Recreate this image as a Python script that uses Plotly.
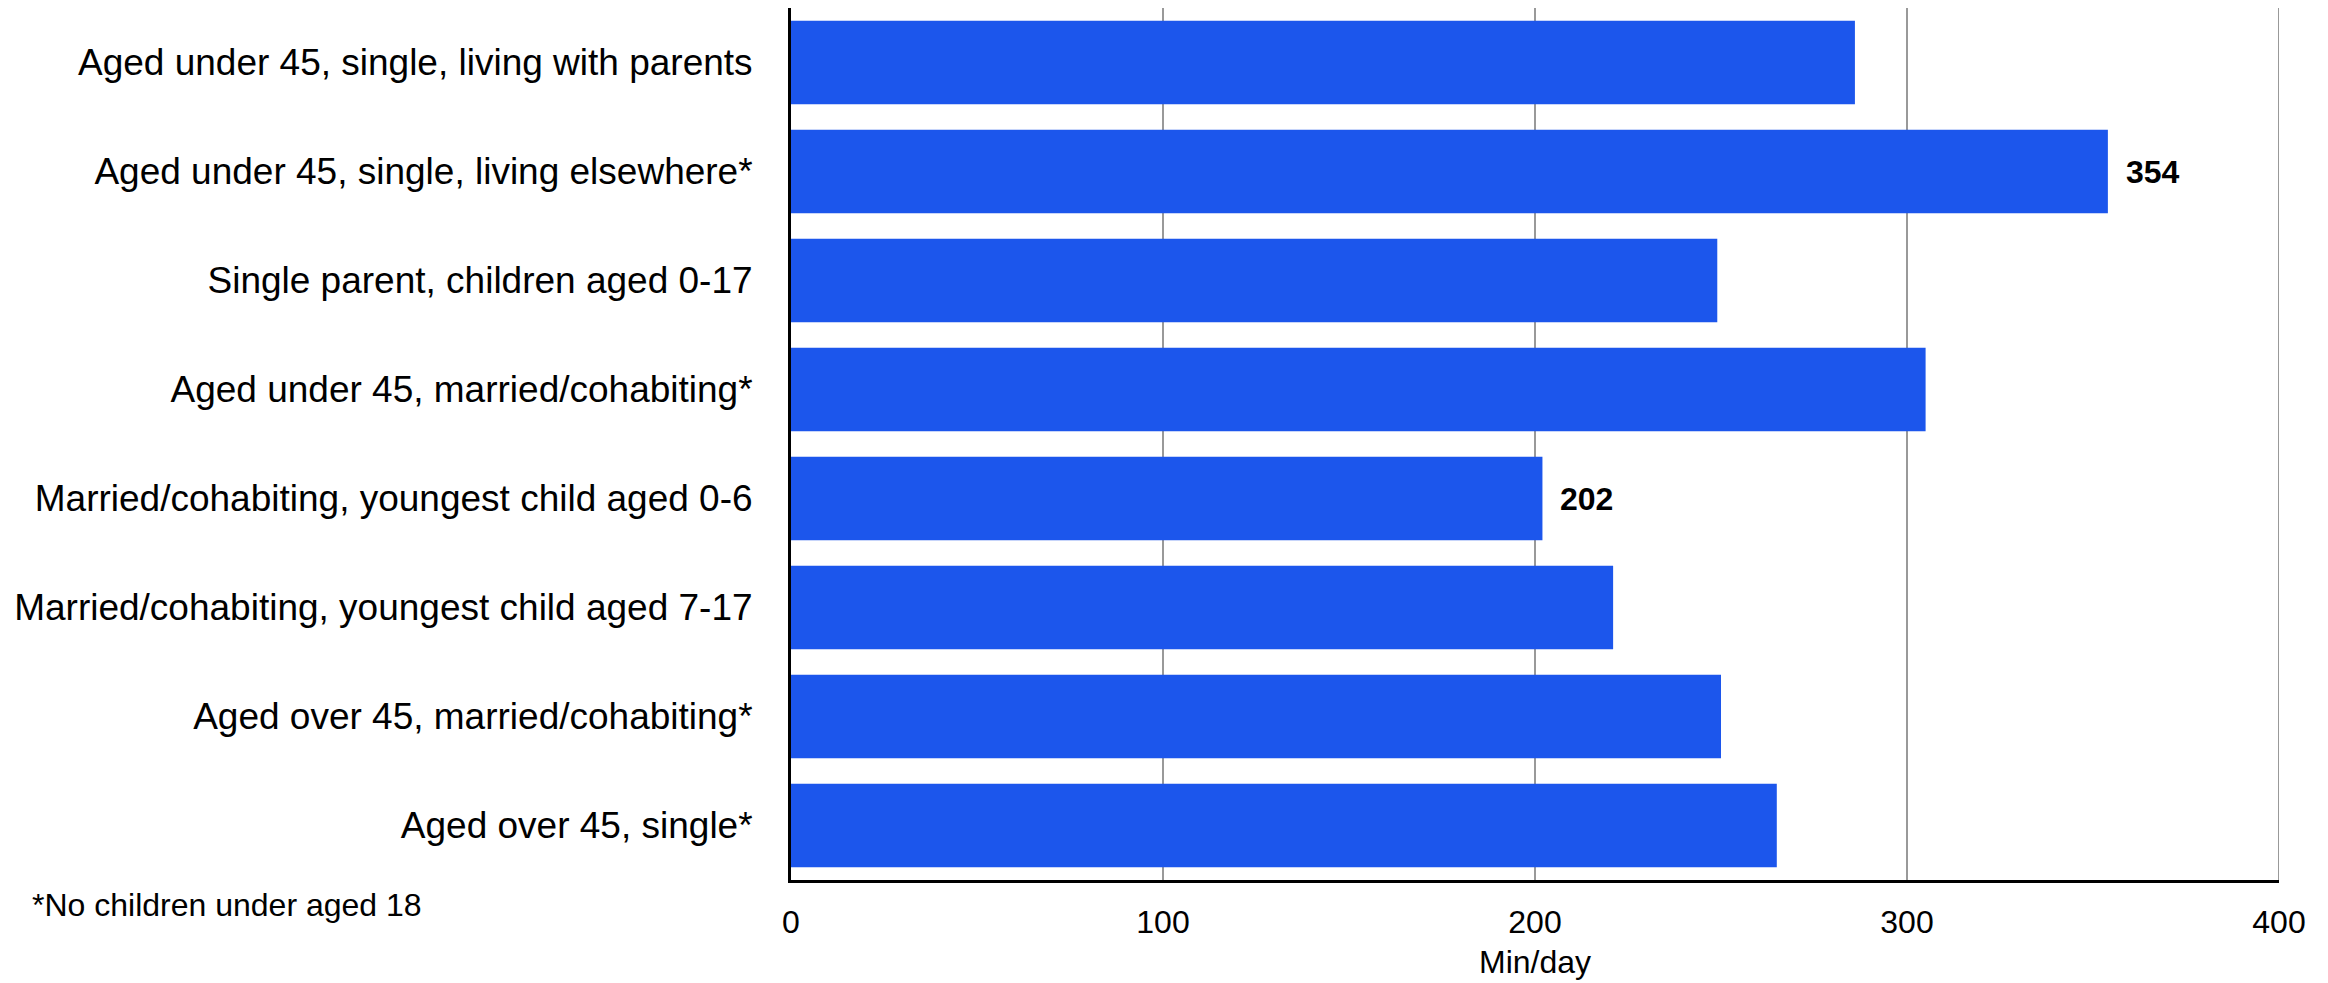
import plotly.graph_objects as go

# Household categories (top to bottom) and average minutes per day
categories = [
    "Aged under 45, single, living with parents",
    "Aged under 45, single, living elsewhere*",
    "Single parent, children aged 0-17",
    "Aged under 45, married/cohabiting*",
    "Married/cohabiting, youngest child aged 0-6",
    "Married/cohabiting, youngest child aged 7-17",
    "Aged over 45, married/cohabiting*",
    "Aged over 45, single*",
]
minutes = [286, 354, 249, 305, 202, 221, 250, 265]

x_ticks = [0, 100, 200, 300, 400]
x_title = "Min/day"
footnote = "*No children under aged 18"

FONT = "Liberation Sans, Arial, sans-serif"
BAR_COLOR = "#1c56ec"
GRID_COLOR = "#999999"

fig = go.Figure(
    go.Bar(
        x=minutes,
        y=categories,
        orientation="h",
        marker=dict(color=BAR_COLOR, line=dict(width=0)),
        hoverinfo="x+y",
    )
)

# Value labels on the highest and lowest bars
hi = max(minutes)
lo = min(minutes)
for cat, val in zip(categories, minutes):
    if val in (hi, lo):
        fig.add_annotation(
            x=val, y=cat, xref="x", yref="y",
            text=f"<b>{val}</b>", showarrow=False,
            xanchor="left", yanchor="middle", xshift=16,
            font=dict(family=FONT, size=32, color="black"),
        )

# Gridline at the right edge of the value range
fig.add_shape(
    type="line", xref="x", yref="paper",
    x0=x_ticks[-1], x1=x_ticks[-1], y0=0, y1=1,
    line=dict(color=GRID_COLOR, width=2), layer="below",
)

# Footnote under the category labels
fig.add_annotation(
    x=-0.5114, y=-0.0285, xref="paper", yref="paper",
    text=footnote, showarrow=False,
    xanchor="left", yanchor="middle",
    font=dict(family=FONT, size=32, color="black"),
)

fig.update_layout(
    width=2328,
    height=983,
    margin=dict(l=791, r=49, t=8, b=99),
    paper_bgcolor="white",
    plot_bgcolor="white",
    bargap=0.233,
    showlegend=False,
    font=dict(family=FONT, color="black"),
)

fig.update_xaxes(
    range=[0, 400],
    tickvals=x_ticks,
    ticktext=[str(t) for t in x_ticks],
    showgrid=True,
    gridcolor=GRID_COLOR,
    gridwidth=2,
    zeroline=False,
    showline=True,
    linecolor="black",
    linewidth=3,
    ticks="",
    ticklabelstandoff=12,
    tickfont=dict(family=FONT, size=32, color="black"),
    title=dict(text=x_title, font=dict(family=FONT, size=32, color="black"), standoff=12),
)

fig.update_yaxes(
    autorange="reversed",
    showgrid=False,
    zeroline=False,
    showline=True,
    linecolor="black",
    linewidth=3,
    ticks="",
    ticklabelstandoff=28,
    tickfont=dict(family=FONT, size=37, color="black"),
)

fig.write_html("out.html")
